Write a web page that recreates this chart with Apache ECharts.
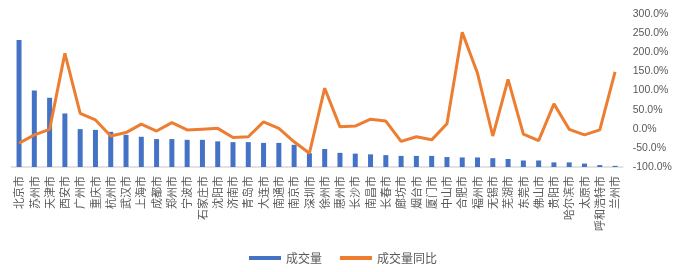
<!DOCTYPE html>
<html>
<head>
<meta charset="utf-8">
<script src="https://cdn.jsdelivr.net/npm/echarts@6/dist/echarts.min.js"></script>
<style>
html,body{margin:0;padding:0;background:#fff;}
#c{width:686px;height:272px;}
</style>
</head>
<body>
<div id="c"></div>
<script>
const categories = ['北京市','苏州市','天津市','西安市','广州市','重庆市','杭州市','武汉市','上海市','成都市','郑州市','宁波市','石家庄市','沈阳市','济南市','青岛市','大连市','南通市','南京市','深圳市','徐州市','惠州市','长沙市','南昌市','长春市','廊坊市','烟台市','厦门市','中山市','合肥市','福州市','无锡市','芜湖市','东莞市','佛山市','贵阳市','哈尔滨市','太原市','呼和浩特市','兰州市'];
const volume = [332,200,181,140,99,97,92,84,79,73,73,71,71,67,65,65,63,63,58,36,47,37,35,33,31,29,29,29,26,25,25,23,21,17,17,12,12,9,5,3];
const yoy = [-38,-16,-1.5,197,40,23,-19,-10,12,-6,16,-3,-1,1,-23,-21,18,1,-34,-64,106,5,7,25,20,-33,-21,-29,13,252,145,-19,129,-14,-31,65,-1.5,-16,-3,149];
const rightTicks = {min:-100, max:300, interval:50};

const chart = echarts.init(document.getElementById('c'), null, {renderer:'canvas'});
chart.setOption({
  animation:false,
  backgroundColor:'#fff',
  textStyle:{fontFamily:'Liberation Sans, "Noto Sans CJK SC", sans-serif'},
  grid:{left:11.4, right:63.3, top:14, bottom:105, containLabel:false},
  legend:{
    bottom:3, left:'center', icon:'rect', itemWidth:32, itemHeight:4, itemGap:18,
    textStyle:{fontSize:12, color:'#595959', fontFamily:'"Noto Sans CJK SC", sans-serif'},
    data:['成交量','成交量同比']
  },
  xAxis:{
    type:'category', data:categories, boundaryGap:true,
    axisLine:{onZero:false, lineStyle:{color:'#d9d9d9', width:1.5}},
    axisTick:{show:false},
    axisLabel:{rotate:90, interval:0, fontSize:11, color:'#595959', margin:9,
      fontFamily:'"Noto Sans CJK SC", sans-serif'}
  },
  yAxis:[
    {type:'value', min:0, max:400, interval:50, show:false, splitLine:{show:false}},
    {type:'value', position:'right', min:rightTicks.min, max:rightTicks.max, interval:rightTicks.interval,
      axisLine:{show:false}, axisTick:{show:false}, splitLine:{show:false},
      axisLabel:{fontSize:10.5, color:'#595959', margin:10, formatter:v=>v.toFixed(1)+'%'}}
  ],
  series:[
    {name:'成交量', type:'bar', data:volume, barWidth:5, itemStyle:{color:'#4472C4'}},
    {name:'成交量同比', type:'line', yAxisIndex:1, data:yoy, symbol:'none',
      lineStyle:{color:'#ED7D31', width:3}, itemStyle:{color:'#ED7D31'}}
  ]
});
</script>
</body>
</html>
